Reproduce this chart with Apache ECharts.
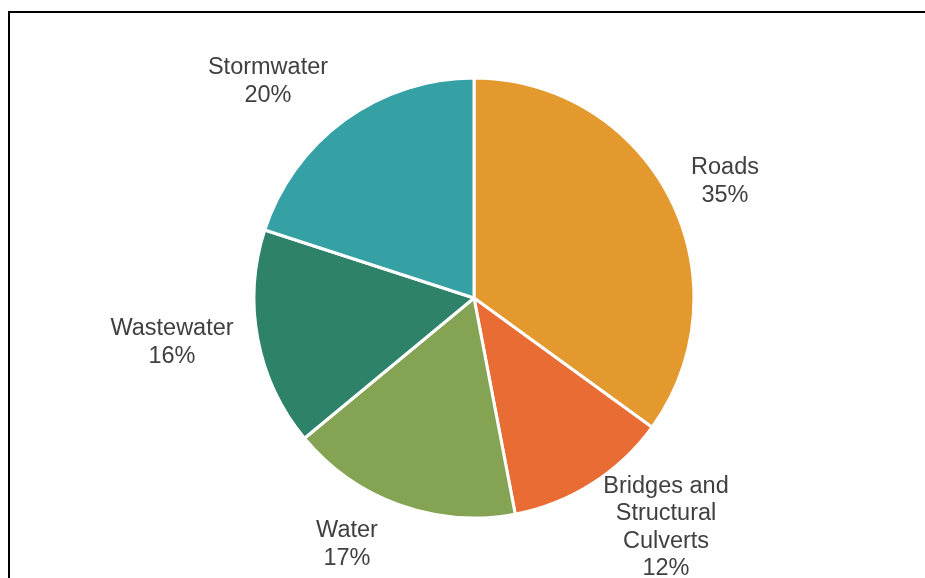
<!DOCTYPE html>
<html>
<head>
<meta charset="utf-8">
<style>
  html, body { margin: 0; padding: 0; background: #ffffff; }
  #chart { width: 925px; height: 578px; }
</style>
<script src="https://cdn.jsdelivr.net/npm/echarts@6/dist/echarts.min.js"></script>
</head>
<body>
<div id="chart"></div>
<script>
// Asset categories and their share of the total (percent)
const categories = ['Roads', 'Bridges and\nStructural\nCulverts', 'Water', 'Wastewater', 'Stormwater'];
const shares = [35, 12, 17, 16, 20];
const colors = ['#E4992E', '#E96C34', '#84A353', '#2E826A', '#36A1A5'];

// Centre of each label block, in pixels
const labelAnchors = [[725, 181.5], [666, 527.5], [347, 544.5], [172, 342.5], [268, 81.5]];

const chart = echarts.init(document.getElementById('chart'), null, { renderer: 'canvas' });

chart.setOption({
  backgroundColor: '#ffffff',
  animation: false,
  graphic: [
    { type: 'line', shape: { x1: 9, y1: 12, x2: 925, y2: 12 }, style: { stroke: '#000', lineWidth: 2 } },
    { type: 'line', shape: { x1: 9, y1: 11, x2: 9, y2: 578 }, style: { stroke: '#000', lineWidth: 2 } }
  ],
  series: [{
    type: 'pie',
    center: [474, 298],
    radius: [0, 220],
    startAngle: 90,
    clockwise: true,
    avoidLabelOverlap: false,
    itemStyle: { borderColor: '#ffffff', borderWidth: 3 },
    label: {
      show: true,
      position: 'outside',
      formatter: p => p.name + '\n' + p.value + '%',
      fontFamily: 'Liberation Sans, Arial, sans-serif',
      fontSize: 23.5,
      lineHeight: 27.5,
      color: '#404040',
      align: 'center'
    },
    labelLine: { show: false },
    labelLayout: p => ({
      x: labelAnchors[p.dataIndex][0],
      y: labelAnchors[p.dataIndex][1],
      align: 'center',
      verticalAlign: 'middle'
    }),
    data: categories.map((name, i) => ({
      name: name,
      value: shares[i],
      itemStyle: { color: colors[i] }
    }))
  }]
});
</script>
</body>
</html>
